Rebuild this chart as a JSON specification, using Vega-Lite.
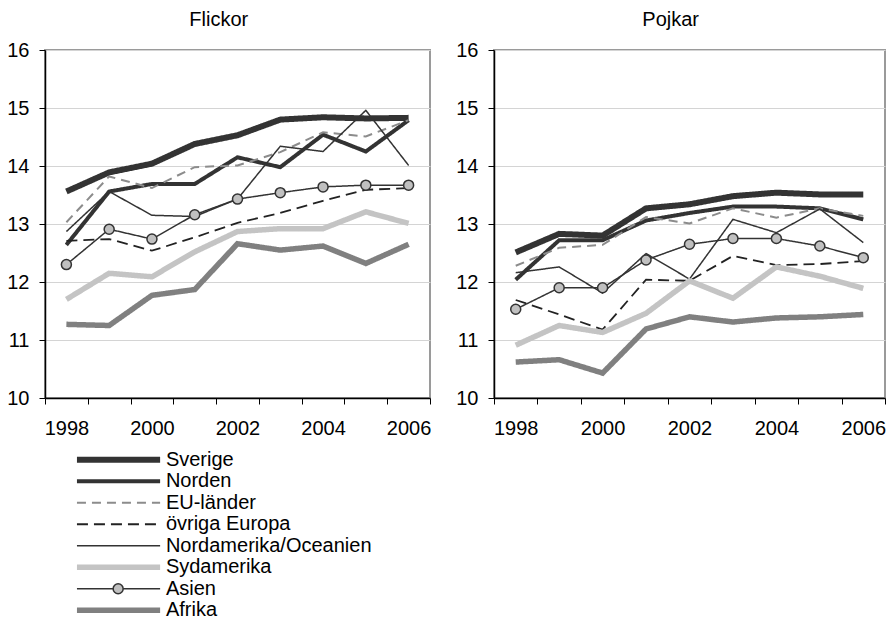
{
  "$schema": "https://vega.github.io/schema/vega-lite/v6.json",
  "padding": {"left": 5, "top": 9, "right": 0, "bottom": 0},
  "background": "white",
  "config": {
    "font": "Liberation Sans",
    "view": {"stroke": "#9a9a9a", "strokeWidth": 2},
    "axis": {"labelFont": "Liberation Sans", "labelFontSize": 20, "labelColor": "#000000", "domainColor": "#000000", "tickColor": "#000000", "title": null},
    "title": {"font": "Liberation Sans", "fontSize": 20, "fontWeight": "normal", "color": "#000000"}
  },
  "datasets": {
    "d": [
      {"kon": "Flickor", "group": "Sverige", "year": 1998, "value": 13.56},
      {"kon": "Flickor", "group": "Sverige", "year": 1999, "value": 13.89},
      {"kon": "Flickor", "group": "Sverige", "year": 2000, "value": 14.04},
      {"kon": "Flickor", "group": "Sverige", "year": 2001, "value": 14.38},
      {"kon": "Flickor", "group": "Sverige", "year": 2002, "value": 14.53},
      {"kon": "Flickor", "group": "Sverige", "year": 2003, "value": 14.80},
      {"kon": "Flickor", "group": "Sverige", "year": 2004, "value": 14.84},
      {"kon": "Flickor", "group": "Sverige", "year": 2005, "value": 14.82},
      {"kon": "Flickor", "group": "Sverige", "year": 2006, "value": 14.83},
      {"kon": "Flickor", "group": "Norden", "year": 1998, "value": 12.64},
      {"kon": "Flickor", "group": "Norden", "year": 1999, "value": 13.56},
      {"kon": "Flickor", "group": "Norden", "year": 2000, "value": 13.69},
      {"kon": "Flickor", "group": "Norden", "year": 2001, "value": 13.69},
      {"kon": "Flickor", "group": "Norden", "year": 2002, "value": 14.15},
      {"kon": "Flickor", "group": "Norden", "year": 2003, "value": 13.98},
      {"kon": "Flickor", "group": "Norden", "year": 2004, "value": 14.54},
      {"kon": "Flickor", "group": "Norden", "year": 2005, "value": 14.25},
      {"kon": "Flickor", "group": "Norden", "year": 2006, "value": 14.79},
      {"kon": "Flickor", "group": "EU-länder", "year": 1998, "value": 13.03},
      {"kon": "Flickor", "group": "EU-länder", "year": 1999, "value": 13.82},
      {"kon": "Flickor", "group": "EU-länder", "year": 2000, "value": 13.62},
      {"kon": "Flickor", "group": "EU-länder", "year": 2001, "value": 13.98},
      {"kon": "Flickor", "group": "EU-länder", "year": 2002, "value": 14.01},
      {"kon": "Flickor", "group": "EU-länder", "year": 2003, "value": 14.24},
      {"kon": "Flickor", "group": "EU-länder", "year": 2004, "value": 14.58},
      {"kon": "Flickor", "group": "EU-länder", "year": 2005, "value": 14.51},
      {"kon": "Flickor", "group": "EU-länder", "year": 2006, "value": 14.79},
      {"kon": "Flickor", "group": "övriga Europa", "year": 1998, "value": 12.71},
      {"kon": "Flickor", "group": "övriga Europa", "year": 1999, "value": 12.74},
      {"kon": "Flickor", "group": "övriga Europa", "year": 2000, "value": 12.54},
      {"kon": "Flickor", "group": "övriga Europa", "year": 2001, "value": 12.77},
      {"kon": "Flickor", "group": "övriga Europa", "year": 2002, "value": 13.02},
      {"kon": "Flickor", "group": "övriga Europa", "year": 2003, "value": 13.19},
      {"kon": "Flickor", "group": "övriga Europa", "year": 2004, "value": 13.40},
      {"kon": "Flickor", "group": "övriga Europa", "year": 2005, "value": 13.59},
      {"kon": "Flickor", "group": "övriga Europa", "year": 2006, "value": 13.62},
      {"kon": "Flickor", "group": "Nordamerika/Oceanien", "year": 1998, "value": 12.87},
      {"kon": "Flickor", "group": "Nordamerika/Oceanien", "year": 1999, "value": 13.56},
      {"kon": "Flickor", "group": "Nordamerika/Oceanien", "year": 2000, "value": 13.15},
      {"kon": "Flickor", "group": "Nordamerika/Oceanien", "year": 2001, "value": 13.13},
      {"kon": "Flickor", "group": "Nordamerika/Oceanien", "year": 2002, "value": 13.43},
      {"kon": "Flickor", "group": "Nordamerika/Oceanien", "year": 2003, "value": 14.34},
      {"kon": "Flickor", "group": "Nordamerika/Oceanien", "year": 2004, "value": 14.25},
      {"kon": "Flickor", "group": "Nordamerika/Oceanien", "year": 2005, "value": 14.96},
      {"kon": "Flickor", "group": "Nordamerika/Oceanien", "year": 2006, "value": 14.01},
      {"kon": "Flickor", "group": "Sydamerika", "year": 1998, "value": 11.70},
      {"kon": "Flickor", "group": "Sydamerika", "year": 1999, "value": 12.15},
      {"kon": "Flickor", "group": "Sydamerika", "year": 2000, "value": 12.09},
      {"kon": "Flickor", "group": "Sydamerika", "year": 2001, "value": 12.52},
      {"kon": "Flickor", "group": "Sydamerika", "year": 2002, "value": 12.87},
      {"kon": "Flickor", "group": "Sydamerika", "year": 2003, "value": 12.92},
      {"kon": "Flickor", "group": "Sydamerika", "year": 2004, "value": 12.92},
      {"kon": "Flickor", "group": "Sydamerika", "year": 2005, "value": 13.21},
      {"kon": "Flickor", "group": "Sydamerika", "year": 2006, "value": 13.01},
      {"kon": "Flickor", "group": "Asien", "year": 1998, "value": 12.30},
      {"kon": "Flickor", "group": "Asien", "year": 1999, "value": 12.91},
      {"kon": "Flickor", "group": "Asien", "year": 2000, "value": 12.74},
      {"kon": "Flickor", "group": "Asien", "year": 2001, "value": 13.16},
      {"kon": "Flickor", "group": "Asien", "year": 2002, "value": 13.43},
      {"kon": "Flickor", "group": "Asien", "year": 2003, "value": 13.54},
      {"kon": "Flickor", "group": "Asien", "year": 2004, "value": 13.64},
      {"kon": "Flickor", "group": "Asien", "year": 2005, "value": 13.67},
      {"kon": "Flickor", "group": "Asien", "year": 2006, "value": 13.67},
      {"kon": "Flickor", "group": "Afrika", "year": 1998, "value": 11.27},
      {"kon": "Flickor", "group": "Afrika", "year": 1999, "value": 11.25},
      {"kon": "Flickor", "group": "Afrika", "year": 2000, "value": 11.77},
      {"kon": "Flickor", "group": "Afrika", "year": 2001, "value": 11.87},
      {"kon": "Flickor", "group": "Afrika", "year": 2002, "value": 12.66},
      {"kon": "Flickor", "group": "Afrika", "year": 2003, "value": 12.55},
      {"kon": "Flickor", "group": "Afrika", "year": 2004, "value": 12.62},
      {"kon": "Flickor", "group": "Afrika", "year": 2005, "value": 12.32},
      {"kon": "Flickor", "group": "Afrika", "year": 2006, "value": 12.65},
      {"kon": "Pojkar", "group": "Sverige", "year": 1998, "value": 12.51},
      {"kon": "Pojkar", "group": "Sverige", "year": 1999, "value": 12.83},
      {"kon": "Pojkar", "group": "Sverige", "year": 2000, "value": 12.80},
      {"kon": "Pojkar", "group": "Sverige", "year": 2001, "value": 13.27},
      {"kon": "Pojkar", "group": "Sverige", "year": 2002, "value": 13.34},
      {"kon": "Pojkar", "group": "Sverige", "year": 2003, "value": 13.48},
      {"kon": "Pojkar", "group": "Sverige", "year": 2004, "value": 13.54},
      {"kon": "Pojkar", "group": "Sverige", "year": 2005, "value": 13.51},
      {"kon": "Pojkar", "group": "Sverige", "year": 2006, "value": 13.51},
      {"kon": "Pojkar", "group": "Norden", "year": 1998, "value": 12.04},
      {"kon": "Pojkar", "group": "Norden", "year": 1999, "value": 12.72},
      {"kon": "Pojkar", "group": "Norden", "year": 2000, "value": 12.72},
      {"kon": "Pojkar", "group": "Norden", "year": 2001, "value": 13.06},
      {"kon": "Pojkar", "group": "Norden", "year": 2002, "value": 13.19},
      {"kon": "Pojkar", "group": "Norden", "year": 2003, "value": 13.30},
      {"kon": "Pojkar", "group": "Norden", "year": 2004, "value": 13.30},
      {"kon": "Pojkar", "group": "Norden", "year": 2005, "value": 13.27},
      {"kon": "Pojkar", "group": "Norden", "year": 2006, "value": 13.08},
      {"kon": "Pojkar", "group": "EU-länder", "year": 1998, "value": 12.28},
      {"kon": "Pojkar", "group": "EU-länder", "year": 1999, "value": 12.59},
      {"kon": "Pojkar", "group": "EU-länder", "year": 2000, "value": 12.64},
      {"kon": "Pojkar", "group": "EU-länder", "year": 2001, "value": 13.12},
      {"kon": "Pojkar", "group": "EU-länder", "year": 2002, "value": 13.01},
      {"kon": "Pojkar", "group": "EU-länder", "year": 2003, "value": 13.27},
      {"kon": "Pojkar", "group": "EU-länder", "year": 2004, "value": 13.11},
      {"kon": "Pojkar", "group": "EU-länder", "year": 2005, "value": 13.27},
      {"kon": "Pojkar", "group": "EU-länder", "year": 2006, "value": 13.14},
      {"kon": "Pojkar", "group": "övriga Europa", "year": 1998, "value": 11.69},
      {"kon": "Pojkar", "group": "övriga Europa", "year": 1999, "value": 11.44},
      {"kon": "Pojkar", "group": "övriga Europa", "year": 2000, "value": 11.18},
      {"kon": "Pojkar", "group": "övriga Europa", "year": 2001, "value": 12.04},
      {"kon": "Pojkar", "group": "övriga Europa", "year": 2002, "value": 12.02},
      {"kon": "Pojkar", "group": "övriga Europa", "year": 2003, "value": 12.45},
      {"kon": "Pojkar", "group": "övriga Europa", "year": 2004, "value": 12.29},
      {"kon": "Pojkar", "group": "övriga Europa", "year": 2005, "value": 12.31},
      {"kon": "Pojkar", "group": "övriga Europa", "year": 2006, "value": 12.36},
      {"kon": "Pojkar", "group": "Nordamerika/Oceanien", "year": 1998, "value": 12.16},
      {"kon": "Pojkar", "group": "Nordamerika/Oceanien", "year": 1999, "value": 12.26},
      {"kon": "Pojkar", "group": "Nordamerika/Oceanien", "year": 2000, "value": 11.81},
      {"kon": "Pojkar", "group": "Nordamerika/Oceanien", "year": 2001, "value": 12.49},
      {"kon": "Pojkar", "group": "Nordamerika/Oceanien", "year": 2002, "value": 12.05},
      {"kon": "Pojkar", "group": "Nordamerika/Oceanien", "year": 2003, "value": 13.08},
      {"kon": "Pojkar", "group": "Nordamerika/Oceanien", "year": 2004, "value": 12.85},
      {"kon": "Pojkar", "group": "Nordamerika/Oceanien", "year": 2005, "value": 13.26},
      {"kon": "Pojkar", "group": "Nordamerika/Oceanien", "year": 2006, "value": 12.68},
      {"kon": "Pojkar", "group": "Sydamerika", "year": 1998, "value": 10.91},
      {"kon": "Pojkar", "group": "Sydamerika", "year": 1999, "value": 11.25},
      {"kon": "Pojkar", "group": "Sydamerika", "year": 2000, "value": 11.13},
      {"kon": "Pojkar", "group": "Sydamerika", "year": 2001, "value": 11.46},
      {"kon": "Pojkar", "group": "Sydamerika", "year": 2002, "value": 12.02},
      {"kon": "Pojkar", "group": "Sydamerika", "year": 2003, "value": 11.72},
      {"kon": "Pojkar", "group": "Sydamerika", "year": 2004, "value": 12.26},
      {"kon": "Pojkar", "group": "Sydamerika", "year": 2005, "value": 12.10},
      {"kon": "Pojkar", "group": "Sydamerika", "year": 2006, "value": 11.89},
      {"kon": "Pojkar", "group": "Asien", "year": 1998, "value": 11.53},
      {"kon": "Pojkar", "group": "Asien", "year": 1999, "value": 11.90},
      {"kon": "Pojkar", "group": "Asien", "year": 2000, "value": 11.90},
      {"kon": "Pojkar", "group": "Asien", "year": 2001, "value": 12.38},
      {"kon": "Pojkar", "group": "Asien", "year": 2002, "value": 12.65},
      {"kon": "Pojkar", "group": "Asien", "year": 2003, "value": 12.75},
      {"kon": "Pojkar", "group": "Asien", "year": 2004, "value": 12.75},
      {"kon": "Pojkar", "group": "Asien", "year": 2005, "value": 12.62},
      {"kon": "Pojkar", "group": "Asien", "year": 2006, "value": 12.42},
      {"kon": "Pojkar", "group": "Afrika", "year": 1998, "value": 10.62},
      {"kon": "Pojkar", "group": "Afrika", "year": 1999, "value": 10.66},
      {"kon": "Pojkar", "group": "Afrika", "year": 2000, "value": 10.43},
      {"kon": "Pojkar", "group": "Afrika", "year": 2001, "value": 11.19},
      {"kon": "Pojkar", "group": "Afrika", "year": 2002, "value": 11.40},
      {"kon": "Pojkar", "group": "Afrika", "year": 2003, "value": 11.31},
      {"kon": "Pojkar", "group": "Afrika", "year": 2004, "value": 11.38},
      {"kon": "Pojkar", "group": "Afrika", "year": 2005, "value": 11.40},
      {"kon": "Pojkar", "group": "Afrika", "year": 2006, "value": 11.44}
    ],
    "series": [
      {"group": "Sverige"},
      {"group": "Norden"},
      {"group": "EU-länder"},
      {"group": "övriga Europa"},
      {"group": "Nordamerika/Oceanien"},
      {"group": "Sydamerika"},
      {"group": "Asien"},
      {"group": "Afrika"}
    ]
  },
  "vconcat": [
    {
      "spacing": 22,
      "hconcat": [
        {
          "title": {"text": "Flickor", "frame": "bounds", "anchor": "middle", "offset": 10},
          "width": 385,
          "height": 348,
          "data": {"name": "d"},
          "transform": [{"filter": "datum.kon == 'Flickor'"}],
          "encoding": {
            "x": {"field": "year", "type": "ordinal", "scale": {"type": "band", "paddingInner": 0, "paddingOuter": 0},
              "axis": {"tickBand": "extent", "labelAngle": 0, "labelExpr": "datum.value % 2 == 0 ? datum.label : ''", "labelPadding": 14, "tickSize": 6, "grid": false, "domainWidth": 1.5}},
            "y": {"field": "value", "type": "quantitative", "scale": {"domain": [10, 16], "nice": false, "zero": false},
              "axis": {"values": [10, 11, 12, 13, 14, 15, 16], "gridColor": "#d4d4d4", "tickSize": 6, "labelPadding": 10, "domainWidth": 1.5}}
          },
          "layer": [
            {
              "mark": {"type": "line", "strokeJoin": "miter"},
              "encoding": {
                "color": {"field": "group", "type": "nominal", "legend": null,
                  "scale": {"domain": ["Sverige", "Norden", "EU-länder", "övriga Europa", "Nordamerika/Oceanien", "Sydamerika", "Asien", "Afrika"],
                    "range": ["#333333", "#333333", "#8c8c8c", "#222222", "#333333", "#c4c4c4", "#333333", "#808080"]}},
                "strokeWidth": {"field": "group", "type": "ordinal", "legend": null,
                  "scale": {"type": "ordinal", "domain": ["Sverige", "Norden", "EU-länder", "övriga Europa", "Nordamerika/Oceanien", "Sydamerika", "Asien", "Afrika"],
                    "range": [6, 4, 2, 1.8, 1.5, 5.5, 1.5, 5.5]}},
                "strokeDash": {"field": "group", "type": "nominal", "legend": null,
                  "scale": {"domain": ["Sverige", "Norden", "EU-länder", "övriga Europa", "Nordamerika/Oceanien", "Sydamerika", "Asien", "Afrika"],
                    "range": [[1, 0], [1, 0], [9, 6], [11, 6], [1, 0], [1, 0], [1, 0], [1, 0]]}}
              }
            },
            {
              "transform": [{"filter": "datum.group == 'Asien'"}],
              "mark": {"type": "point", "shape": "circle", "filled": true, "fill": "#c0c0c0", "stroke": "#333333", "strokeWidth": 1.5, "size": 100, "opacity": 1}
            }
          ]
        },
        {
          "title": {"text": "Pojkar", "frame": "bounds", "anchor": "middle", "offset": 10},
          "width": 391,
          "height": 348,
          "data": {"name": "d"},
          "transform": [{"filter": "datum.kon == 'Pojkar'"}],
          "encoding": {
            "x": {"field": "year", "type": "ordinal", "scale": {"type": "band", "paddingInner": 0, "paddingOuter": 0},
              "axis": {"tickBand": "extent", "labelAngle": 0, "labelExpr": "datum.value % 2 == 0 ? datum.label : ''", "labelPadding": 14, "tickSize": 6, "grid": false, "domainWidth": 1.5}},
            "y": {"field": "value", "type": "quantitative", "scale": {"domain": [10, 16], "nice": false, "zero": false},
              "axis": {"values": [10, 11, 12, 13, 14, 15, 16], "gridColor": "#d4d4d4", "tickSize": 6, "labelPadding": 10, "domainWidth": 1.5}}
          },
          "layer": [
            {
              "mark": {"type": "line", "strokeJoin": "miter"},
              "encoding": {
                "color": {"field": "group", "type": "nominal", "legend": null,
                  "scale": {"domain": ["Sverige", "Norden", "EU-länder", "övriga Europa", "Nordamerika/Oceanien", "Sydamerika", "Asien", "Afrika"],
                    "range": ["#333333", "#333333", "#8c8c8c", "#222222", "#333333", "#c4c4c4", "#333333", "#808080"]}},
                "strokeWidth": {"field": "group", "type": "ordinal", "legend": null,
                  "scale": {"type": "ordinal", "domain": ["Sverige", "Norden", "EU-länder", "övriga Europa", "Nordamerika/Oceanien", "Sydamerika", "Asien", "Afrika"],
                    "range": [6, 4, 2, 1.8, 1.5, 5.5, 1.5, 5.5]}},
                "strokeDash": {"field": "group", "type": "nominal", "legend": null,
                  "scale": {"domain": ["Sverige", "Norden", "EU-länder", "övriga Europa", "Nordamerika/Oceanien", "Sydamerika", "Asien", "Afrika"],
                    "range": [[1, 0], [1, 0], [9, 6], [11, 6], [1, 0], [1, 0], [1, 0], [1, 0]]}}
              }
            },
            {
              "transform": [{"filter": "datum.group == 'Asien'"}],
              "mark": {"type": "point", "shape": "circle", "filled": true, "fill": "#c0c0c0", "stroke": "#333333", "strokeWidth": 1.5, "size": 100, "opacity": 1}
            }
          ]
        }
      ]
    },
    {
      "width": 385,
      "height": 172,
      "view": {"stroke": null},
      "data": {"name": "series"},
      "encoding": {
        "y": {"field": "group", "type": "nominal", "axis": null,
          "sort": ["Sverige", "Norden", "EU-länder", "övriga Europa", "Nordamerika/Oceanien", "Sydamerika", "Asien", "Afrika"],
          "scale": {"type": "band", "paddingInner": 0, "paddingOuter": 0}}
      },
      "layer": [
        {
          "mark": {"type": "rule"},
          "encoding": {
            "x": {"datum": 8.3, "type": "quantitative", "scale": {"domain": [0, 100], "nice": false, "zero": false}, "axis": null},
            "x2": {"datum": 29.9},
            "color": {"field": "group", "type": "nominal", "legend": null,
              "scale": {"domain": ["Sverige", "Norden", "EU-länder", "övriga Europa", "Nordamerika/Oceanien", "Sydamerika", "Asien", "Afrika"],
                "range": ["#333333", "#333333", "#8c8c8c", "#222222", "#333333", "#c4c4c4", "#333333", "#808080"]}},
            "strokeWidth": {"field": "group", "type": "ordinal", "legend": null,
              "scale": {"type": "ordinal", "domain": ["Sverige", "Norden", "EU-länder", "övriga Europa", "Nordamerika/Oceanien", "Sydamerika", "Asien", "Afrika"],
                "range": [6, 4, 2, 1.8, 1.5, 5.5, 1.5, 5.5]}},
            "strokeDash": {"field": "group", "type": "nominal", "legend": null,
              "scale": {"domain": ["Sverige", "Norden", "EU-länder", "övriga Europa", "Nordamerika/Oceanien", "Sydamerika", "Asien", "Afrika"],
                "range": [[1, 0], [1, 0], [9, 6], [11, 6], [1, 0], [1, 0], [1, 0], [1, 0]]}}
          }
        },
        {
          "transform": [{"filter": "datum.group == 'Asien'"}],
          "mark": {"type": "point", "shape": "circle", "filled": true, "fill": "#c0c0c0", "stroke": "#333333", "strokeWidth": 1.5, "size": 100, "opacity": 1},
          "encoding": {"x": {"datum": 19.0, "type": "quantitative"}}
        },
        {
          "mark": {"type": "text", "align": "left", "baseline": "middle", "fontSize": 20, "font": "Liberation Sans", "color": "#000000"},
          "encoding": {
            "x": {"datum": 31.4, "type": "quantitative"},
            "text": {"field": "group", "type": "nominal"}
          }
        }
      ]
    }
  ],
  "spacing": 10
}
